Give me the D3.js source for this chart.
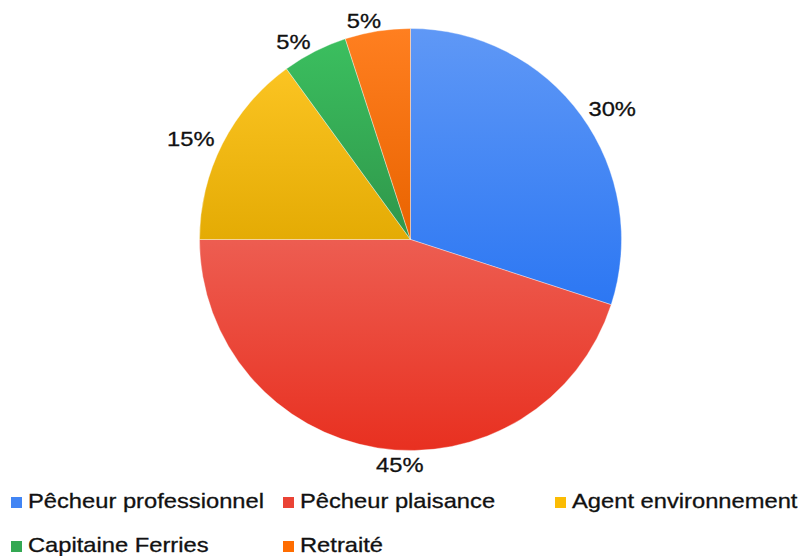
<!DOCTYPE html>
<html>
<head>
<meta charset="utf-8">
<script src="https://cdn.jsdelivr.net/npm/d3@7"></script>
<style>
  html, body { margin: 0; padding: 0; background: #fff; }
  svg { display: block; }
  text { font-family: "Liberation Sans", Arial, Helvetica, sans-serif; fill: #111; stroke: #111; stroke-width: 0.3; }
</style>
</head>
<body>
<svg id="chart" width="803" height="556"></svg>
<script>
// Répartition des professions
const categories = ["Pêcheur professionnel", "Pêcheur plaisance", "Agent environnement", "Capitaine Ferries", "Retraité"];
const values = [30, 45, 15, 5, 5];
const colors = ["#4285f4", "#ea4335", "#fbbc04", "#34a853", "#ff6d01"];

const width = 803, height = 556;
const cx = 410.5, cy = 239.5, radius = 211;
const fontSize = 21;
const stretch = 1.13; // slightly wide lettering

const svg = d3.select("#chart");
const defs = svg.append("defs");

// one vertical shading per slice: lighter on top, deeper at the bottom
function shade(c, dl) {
  const h = d3.hsl(c);
  h.l = Math.max(0, Math.min(1, h.l + dl));
  return h.formatHex();
}
colors.forEach((c, i) => {
  const g = defs.append("linearGradient")
    .attr("id", "grad" + i)
    .attr("x1", 0).attr("y1", 0).attr("x2", 0).attr("y2", 1);
  g.append("stop").attr("offset", "0%").attr("stop-color", shade(c, 0.06));
  g.append("stop").attr("offset", "100%").attr("stop-color", shade(c, -0.045));
});

const data = categories.map((name, i) => ({ name, value: values[i], color: colors[i], i }));

const pie = d3.pie().value(d => d.value).sort(null);
const arc = d3.arc().innerRadius(0).outerRadius(radius);
const arcs = pie(data);

const gPie = svg.append("g").attr("transform", `translate(${cx},${cy})`);

gPie.selectAll("path.slice")
  .data(arcs)
  .join("path")
  .attr("class", "slice")
  .attr("d", arc)
  .attr("fill", d => `url(#grad${d.data.i})`)
  .attr("stroke", "rgba(255,255,255,0.6)")
  .attr("stroke-width", 0.6);

// percentage labels: the text corner nearest the pie sits just outside the rim
const total = d3.sum(values);
const fmt = v => Math.round(v / total * 100) + "%";
const capH = fontSize * 0.716;
const labelR = radius + 9;

arcs.forEach(d => {
  const a = (d.startAngle + d.endAngle) / 2;
  const sx = Math.sin(a), cy0 = Math.cos(a);
  const px = sx * labelR, py = -cy0 * labelR;
  const upper = cy0 > 0;
  const anchor = (sx > 0 || cy0 < -0.9) ? "start" : "end";
  const t = gPie.append("text")
    .attr("font-size", fontSize)
    .attr("text-anchor", anchor)
    .text(fmt(d.data.value));
  const baseY = upper ? py + 6 : py + capH;
  const baseX = (upper && sx < 0 && sx > -0.3) ? px + 5 : px;
  t.attr("transform", `translate(${baseX},${baseY}) scale(${stretch},1)`);
});

// legend: three columns, two rows
const legendX = [11, 283, 555];
const legendY = [508, 552];
const box = 11;

const legend = svg.append("g");
data.forEach((d, i) => {
  const col = i % 3, row = Math.floor(i / 3);
  const x = legendX[col], y = legendY[row];
  legend.append("rect")
    .attr("x", x).attr("y", y - box)
    .attr("width", box).attr("height", box)
    .attr("fill", d.color);
  legend.append("text")
    .attr("font-size", fontSize)
    .attr("transform", `translate(${x + box + 6},${y}) scale(${stretch},1)`)
    .text(d.name);
});
</script>
</body>
</html>
